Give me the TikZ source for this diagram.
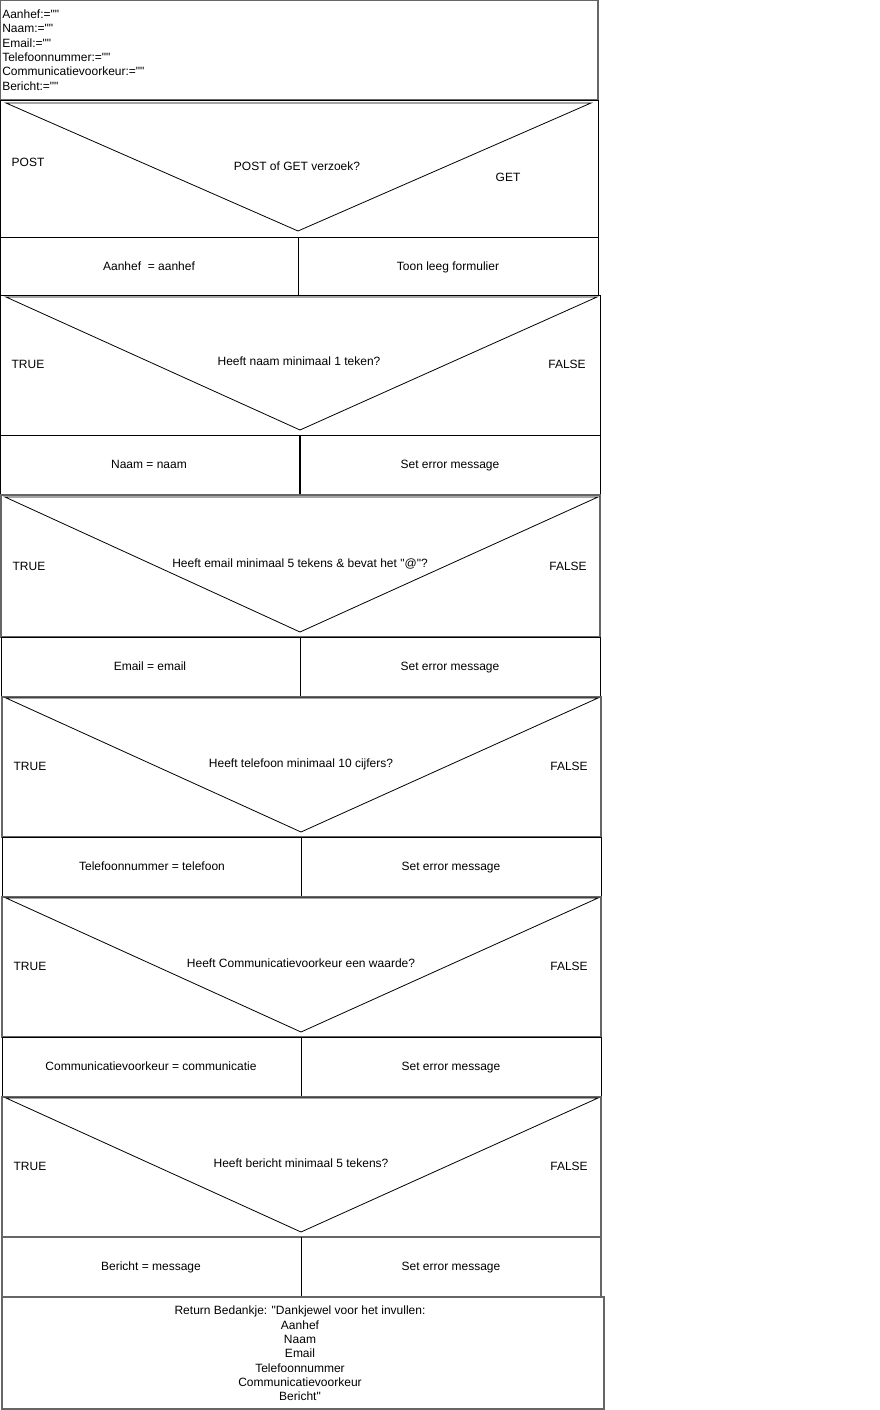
\documentclass[tikz,border=0pt]{standalone}
\usepackage{fontspec}
\setmainfont{Liberation Sans}[Ligatures=TeXOff]
\begin{document}
\begin{tikzpicture}[x=0.75pt,y=-0.75pt,
  frame/.style={draw=black, line width=0.75pt},
  grayframe/.style={draw=black!60, line width=1pt},
  tri/.style={draw=black, line width=0.6pt},
  txt/.style={font=\fontsize{9}{10.8}\selectfont, inner sep=0pt, text=black},
  lbl/.style={txt, text height=6.5pt, text depth=1.9pt, yshift=-0.75pt}]
\useasboundingbox[fill=white] (0,0) rectangle (880,1410);

% declarations
\draw[grayframe] (0,0) rectangle (598,100);
\node[txt, anchor=west, align=left] (decl) at (2,50) {Aanhef:=""\\Naam:=""\\Email:=""\\Telefoonnummer:=""\\Communicatievoorkeur:=""\\Bericht:=""};

% decision 1
\draw[frame] (0,100) rectangle (598,237);
\draw[tri] (6,103) -- (591,103) -- (298,231) -- cycle;
\node[lbl] (d1l) at (28,162) {POST};
\node[lbl] (d1) at (297,166) {POST of GET verzoek?};
\node[lbl] (d1r) at (508,177) {GET};
\draw[frame] (0,237) rectangle (598,295);
\draw[frame] (298,237) -- (298,295);
\node[lbl] (a1) at (149,266) {Aanhef\ \ = aanhef};
\node[lbl] (b1) at (448,266) {Toon leeg formulier};

% decision 2
\draw[frame] (0,295) rectangle (600,435);
\draw[tri] (6,297) -- (597,297) -- (300,430) -- cycle;
\node[lbl] (d2l) at (28,364) {TRUE};
\node[lbl] (d2) at (299,361) {Heeft naam minimaal 1 teken?};
\node[lbl] (d2r) at (567,364) {FALSE};
\draw[frame] (0,435) rectangle (600,495);
\draw[frame, line width=1.2pt] (300,435) -- (300,495);
\node[lbl] (a2) at (149,464) {Naam = naam};
\node[lbl] (b2) at (450,464) {Set error message};

% decision 3
\draw[grayframe] (1,495) rectangle (600,637);
\draw[tri] (5,497) -- (598,497) -- (300,632) -- cycle;
\node[lbl] (d3l) at (29,566) {TRUE};
\node[lbl] (d3) at (300,563) {Heeft email minimaal 5 tekens \& bevat het "@"?};
\node[lbl] (d3r) at (568,566) {FALSE};
\draw[frame] (1,637) rectangle (600,697);
\draw[frame] (300,637) -- (300,697);
\node[lbl] (a3) at (150,666) {Email = email};
\node[lbl] (b3) at (450,666) {Set error message};

% decision 4
\draw[grayframe] (2,697) rectangle (601,837);
\draw[tri] (6,698) -- (598,698) -- (301,832) -- cycle;
\node[lbl] (d4l) at (30,766) {TRUE};
\node[lbl] (d4) at (301,763) {Heeft telefoon minimaal 10 cijfers?};
\node[lbl] (d4r) at (569,766) {FALSE};
\draw[frame] (2,837) rectangle (601,897);
\draw[frame] (301,837) -- (301,897);
\node[lbl] (a4) at (152,866) {Telefoonnummer = telefoon};
\node[lbl] (b4) at (451,866) {Set error message};

% decision 5
\draw[grayframe] (2,897) rectangle (601,1037);
\draw[tri] (6,898) -- (598,898) -- (301,1032) -- cycle;
\node[lbl] (d5l) at (30,966) {TRUE};
\node[lbl] (d5) at (301,963) {Heeft Communicatievoorkeur een waarde?};
\node[lbl] (d5r) at (569,966) {FALSE};
\draw[frame] (2,1037) rectangle (601,1097);
\draw[frame] (301,1037) -- (301,1097);
\node[lbl] (a5) at (151,1066) {Communicatievoorkeur = communicatie};
\node[lbl] (b5) at (451,1066) {Set error message};

% decision 6
\draw[grayframe] (2,1097) rectangle (601,1237);
\draw[tri] (6,1098) -- (598,1098) -- (301,1232) -- cycle;
\node[lbl] (d6l) at (30,1166) {TRUE};
\node[lbl] (d6) at (301,1163) {Heeft bericht minimaal 5 tekens?};
\node[lbl] (d6r) at (569,1166) {FALSE};
\draw[grayframe] (2,1237) rectangle (601,1297);
\draw[frame] (301,1237) -- (301,1297);
\node[lbl] (a6) at (151,1266) {Bericht = message};
\node[lbl] (b6) at (451,1266) {Set error message};

% return
\draw[grayframe] (2,1297) rectangle (604,1409);
\node[txt, align=center, font=\fontsize{9}{10.75}\selectfont] (ret) at (300,1353.5) {Return Bedankje: "Dankjewel voor het invullen:\\Aanhef\\Naam\\Email\\Telefoonnummer\\Communicatievoorkeur\\Bericht"};
\end{tikzpicture}
\end{document}
